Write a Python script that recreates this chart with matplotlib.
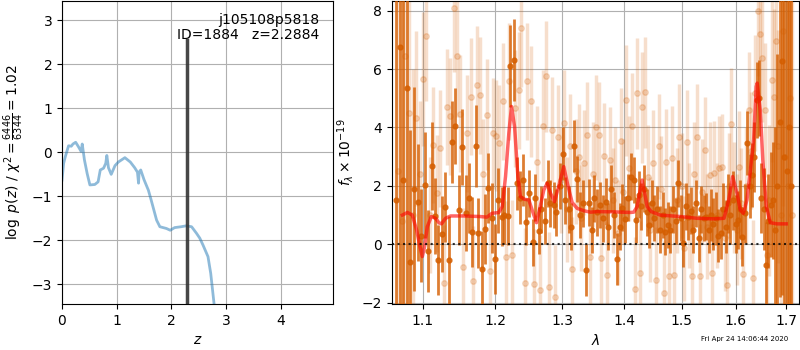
import matplotlib
matplotlib.use('Agg')
import matplotlib.pyplot as plt
from matplotlib.ticker import FixedLocator, FixedFormatter, NullLocator

# --- p(z) panel ---
z_grid = [0.0, 0.03, 0.06, 0.12, 0.17, 0.20, 0.25, 0.30, 0.35, 0.37,
          0.41, 0.46, 0.51, 0.60, 0.66, 0.70, 0.76, 0.80, 0.82, 0.85,
          0.90, 0.97, 1.03, 1.15, 1.25, 1.33, 1.38, 1.40, 1.41, 1.44,
          1.50, 1.58, 1.63, 1.73, 1.79, 1.91, 1.98, 2.06, 2.18, 2.27,
          2.37, 2.46, 2.52, 2.58, 2.67, 2.72, 2.78, 2.82]
log_pz = [-0.63, -0.25, -0.10, 0.15, 0.14, 0.19, 0.23, 0.13, 0.02, 0.19,
          -0.17, -0.48, -0.74, -0.73, -0.67, -0.40, -0.36, -0.25, -0.07, -0.35,
          -0.50, -0.30, -0.22, -0.12, -0.22, -0.35, -0.45, -0.70, -0.45, -0.40,
          -0.62, -0.86, -1.08, -1.54, -1.69, -1.73, -1.77, -1.71, -1.69, -1.67,
          -1.69, -1.84, -1.95, -2.11, -2.37, -2.75, -3.43, -4.0]
z_best = 2.2884
z_line_top = 2.55
label_text = 'j105108p5818\nID=1884   z=2.2884'

# --- spectrum panel: beam 1 (dark) ---
wave_dark = [1.066, 1.071, 1.075, 1.080, 1.084, 1.089, 1.094, 1.098, 1.103, 1.107,
             1.112, 1.117, 1.121, 1.126, 1.130, 1.135, 1.140, 1.144, 1.149, 1.153,
             1.158, 1.163, 1.167, 1.172, 1.176, 1.181, 1.186, 1.190, 1.195, 1.199,
             1.204, 1.209, 1.213, 1.218, 1.222, 1.227, 1.232, 1.236, 1.241, 1.245,
             1.250, 1.255, 1.259, 1.264, 1.268, 1.273, 1.278, 1.282, 1.287, 1.291,
             1.296, 1.301, 1.305, 1.310, 1.314, 1.319, 1.324, 1.328, 1.333, 1.337,
             1.342, 1.347, 1.351, 1.356,
             1.360, 1.365, 1.370, 1.374, 1.379, 1.383, 1.388, 1.393, 1.397, 1.402,
             1.406, 1.411, 1.416, 1.420, 1.425, 1.429, 1.434, 1.439, 1.443, 1.448,
             1.452, 1.457, 1.462, 1.466, 1.471, 1.475, 1.480, 1.485, 1.489, 1.494,
             1.498, 1.503, 1.508, 1.512, 1.517, 1.521, 1.526, 1.531, 1.535, 1.540,
             1.544, 1.549,
             1.554, 1.558, 1.563, 1.567, 1.572, 1.577, 1.581, 1.586, 1.590, 1.595,
             1.600, 1.604, 1.609, 1.613, 1.618, 1.623, 1.627, 1.632, 1.636, 1.641,
             1.646, 1.650, 1.655, 1.659, 1.664, 1.669, 1.673, 1.678, 1.682, 1.687,
             1.692, 1.696, 1.701, 1.705, 1.710]
flux_dark = [1.5, 6.75, 2.2, 5.35, -0.6, 1.9, 1.44, 0.3, 2.03, -0.22,
             2.69, 0.97, -0.54, 0.35, 1.27, -0.54, 3.5, 4.06, 1.18, 3.33,
             1.06, 1.58, 0.43, 3.37, 0.4, -0.86, 0.51, 1.92, 0.9, -0.5,
             1.5, 0.95, 1.0, 0.97, 6.1, 6.3, 2.09, 1.6, 2.2, 0.78,
             1.75, 0.07, 1.6, 0.47, 1.2, 0.8, 2.09, 1.4, 1.35, 1.1,
             2.0, 3.1, 1.5, 1.2, 0.6, 3.37, 2.24, 1.0, 1.4, -0.88,
             1.43, 0.49, 1.58, 1.1,
             1.35, 0.89, 1.46, 0.6, 1.9, 1.0, -0.51, 0.6, 1.25, 0.85,
             1.6, 2.32, 2.2, 0.83, 1.7, 1.3, 1.9, 1.1, 0.66, 1.4,
             0.9, 1.2, 0.5, 1.0, 0.43, 0.66, 0.5, 1.2, 0.8, 2.09,
             0.9, 0.03, 1.3, 0.95, 1.15, 0.5, 1.4, 0.2, 1.2, 0.9,
             0.95, 0.5,
             1.0, 0.7, 0.89, 0.3, 0.38, 1.2, 0.6, 1.4, 1.0, 1.5,
             0.7, 0.83, 1.2, 0.26, 1.06, 3.46, 2.0, 2.38, 3.0, 4.95,
             5.0, 1.6, 1.2, -0.72, 0.8, 1.35, 1.5, 0.5, 2.0, 4.2,
             6.26, 3.0, 2.5, 4.0, 2.0]
err_dark = [10, 12, 9, 11, 4.5, 3.5, 2.0, 1.6, 1.8, 1.4,
            1.5, 1.3, 1.2, 1.3, 1.2, 1.5, 1.4, 1.3, 1.2, 1.3,
            1.3, 1.2, 1.2, 1.4, 1.2, 1.3, 1.2, 1.2, 1.2, 1.2,
            1.1, 1.0, 1.0, 1.0, 1.4, 1.4, 0.9, 0.9, 0.9, 0.8,
            0.8, 0.8, 0.8, 0.8, 0.8, 0.8, 0.8, 0.8, 0.8, 0.8,
            0.8, 0.9, 0.8, 0.8, 0.8, 0.9, 0.8, 0.8, 0.8, 0.9,
            0.8, 0.8, 0.8, 0.8,
            0.8, 0.8, 0.8, 0.8, 0.8, 0.8, 0.9, 0.8, 0.8, 0.8,
            0.8, 0.8, 0.8, 0.8, 0.8, 0.8, 0.8, 0.8, 0.8, 0.8,
            0.8, 0.8, 0.8, 0.8, 0.8, 0.8, 0.8, 0.8, 0.8, 0.8,
            0.8, 0.8, 0.8, 0.8, 0.8, 0.8, 0.8, 0.8, 0.8, 0.8,
            0.8, 0.8,
            0.9, 0.9, 0.9, 0.9, 0.9, 0.9, 0.9, 1.0, 1.0, 1.0,
            1.0, 1.0, 1.0, 1.0, 1.0, 1.1, 1.1, 1.1, 1.2, 1.3,
            1.3, 1.2, 1.4, 1.5, 1.6, 1.8, 2.0, 3.5, 4.5, 6.0,
            8.0, 10, 12, 12, 12]

# --- spectrum panel: beam 2 (light) ---
wave_light = [1.068, 1.073, 1.077, 1.082, 1.087, 1.091, 1.096, 1.100, 1.105, 1.110,
              1.114, 1.119, 1.123, 1.128, 1.132, 1.137, 1.142, 1.146, 1.151, 1.155,
              1.160, 1.165, 1.169, 1.174, 1.178, 1.183, 1.188, 1.192, 1.197, 1.201,
              1.206, 1.211, 1.215, 1.220, 1.224, 1.229, 1.234, 1.238, 1.243, 1.247,
              1.252, 1.257, 1.261, 1.266, 1.270, 1.275, 1.280, 1.284, 1.289, 1.293,
              1.298, 1.303, 1.307, 1.312, 1.316, 1.321, 1.326, 1.330, 1.335, 1.339,
              1.344, 1.349, 1.353, 1.358,
              1.362, 1.367, 1.372, 1.376, 1.381, 1.385, 1.390, 1.395, 1.399, 1.404,
              1.408, 1.413, 1.418, 1.422, 1.427, 1.431, 1.436, 1.441, 1.445, 1.450,
              1.454, 1.459, 1.464, 1.468, 1.473, 1.477, 1.482, 1.487, 1.491, 1.496,
              1.500, 1.505, 1.510, 1.514, 1.519, 1.523, 1.528, 1.533, 1.537, 1.542,
              1.546, 1.551,
              1.556, 1.560, 1.565, 1.569, 1.574, 1.579, 1.583, 1.588, 1.592, 1.597,
              1.602, 1.606, 1.611, 1.615, 1.620, 1.625, 1.629, 1.634, 1.638, 1.643,
              1.648, 1.652, 1.657, 1.661, 1.666, 1.671, 1.675, 1.680, 1.684, 1.689,
              1.694, 1.698, 1.703, 1.707, 1.712]
flux_light = [2.5, 0.8, 6.46, 4.5, 1.0, 4.32, 2.4, 5.66, 7.12, 1.0,
              3.4, 1.75, 3.29, -1.34, 4.7, 4.38, 8.1, 6.45, 4.47, -0.77,
              3.8, 5.06, -1.26, 5.46, 5.1, 2.4, 4.43, -0.9, 3.8, 3.71,
              3.46, 4.9, -0.42, 5.58, -0.37, 4.66, 5.27, 7.4, -1.34, 5.58,
              4.9, -1.36, 2.83, -1.57, 4.06, 5.75, -1.47, 3.92, -1.82, 3.67,
              2.2, 4.17, 1.2, 3.35, -0.86, 2.5, 3.0, 0.9, 2.8, 3.75,
              -0.42, 2.4, 4.0, 3.75,
              -0.48, 3.03, -1.05, 2.9, 1.5, 2.2, 0.4, 3.55, 1.8, 4.93,
              2.6, 4.06, -1.54, 5.18, -1.0, 4.7, 5.2, 2.3, 0.5, 2.8,
              -1.22, 3.35, 1.9, -1.68, 2.83, -1.1, 2.95, -1.05, 1.5, 3.69,
              2.0, -0.14, 3.49, 1.0, -1.1, 2.4, 3.69, -1.1, 1.8, 3.23,
              0.6, 2.38,
              -1.0, 2.43, 1.0, 2.6, 2.66, 0.2, -1.39, 2.0, 4.13, 1.6,
              0.5, 2.66, 1.4, -1.02, 2.0, 4.6, 3.2, -1.17, 5.18, 7.98,
              7.2, 6.38, 4.6, -0.36, 1.5, 5.63, 5.06, 6.95, 3.35, 1.0,
              7.3, 3.0, 2.0, 5.0, 1.0]
err_light = [12, 12, 10, 8, 5, 3, 2.5, 2.3, 2.2, 2.0,
             2.0, 2.0, 2.0, 2.0, 2.0, 2.0, 2.2, 2.1, 2.0, 2.0,
             2.0, 2.0, 1.9, 2.0, 2.0, 1.9, 1.9, 1.9, 1.9, 1.9,
             2.0, 2.0, 1.9, 2.0, 1.9, 2.0, 2.0, 2.0, 1.9, 2.0,
             1.9, 1.9, 1.9, 1.9, 1.9, 1.9, 1.9, 1.8, 1.8, 1.8,
             1.8, 1.8, 1.8, 1.8, 1.8, 1.8, 1.8, 1.8, 1.8, 1.8,
             1.8, 1.8, 1.8, 1.8,
             1.8, 1.8, 1.8, 1.8, 1.8, 1.8, 1.8, 1.8, 1.8, 1.9,
             1.8, 1.8, 1.8, 1.9, 1.8, 1.9, 1.9, 1.8, 1.8, 1.8,
             1.8, 1.8, 1.8, 1.8, 1.8, 1.8, 1.8, 1.8, 1.8, 1.8,
             1.8, 1.8, 1.8, 1.8, 1.8, 1.8, 1.8, 1.8, 1.8, 1.8,
             1.8, 1.8,
             1.8, 1.8, 1.8, 1.8, 1.8, 1.8, 1.8, 1.8, 1.9, 1.9,
             1.9, 1.9, 1.9, 2.0, 2.0, 2.0, 2.0, 2.0, 2.0, 2.2,
             2.2, 2.2, 2.3, 2.4, 2.6, 2.8, 3.0, 3.5, 4, 5,
             6, 8, 10, 12, 12]

# --- best-fit model ---
model_wave = [1.0736, 1.0802, 1.0865, 1.0921, 1.0965, 1.0996, 1.1026, 1.1062, 1.1115, 1.1172,
              1.1216, 1.1252, 1.1306, 1.1374, 1.1555, 1.1786, 1.188, 1.1952, 1.2051, 1.21,
              1.2148, 1.2196, 1.2235, 1.228, 1.2329, 1.2368, 1.2428, 1.2492, 1.2558, 1.2607,
              1.2657, 1.2718, 1.277, 1.282, 1.2881, 1.2947, 1.3025, 1.3088, 1.3157, 1.3235,
              1.334, 1.3449, 1.3556, 1.3828, 1.4108, 1.4164, 1.4221, 1.4307, 1.4393, 1.4462,
              1.462, 1.4978, 1.528, 1.5585, 1.578, 1.587, 1.5944, 1.6028, 1.609, 1.615,
              1.622, 1.628, 1.635, 1.640, 1.642, 1.648, 1.653, 1.660, 1.668, 1.681,
              1.700]
model_flux = [1.0, 1.09, 1.0, 0.49, -0.08, -0.42, -0.08, 0.6, 0.95, 0.89,
              0.74, 0.7, 0.89, 0.97, 0.97, 0.95, 0.93, 1.06, 1.09, 1.29,
              2.32, 3.8, 4.72, 4.03, 2.32, 1.63, 1.54, 1.52, 1.06, 0.74,
              1.23, 1.86, 2.09, 1.75, 1.46, 1.98, 2.66, 2.03, 1.43, 1.23,
              1.15, 1.1, 1.12, 1.11, 1.09, 1.1, 1.29, 2.2, 1.29, 1.12,
              1.0, 0.95, 0.89, 0.87, 0.89, 1.52, 2.32, 1.75, 1.18, 1.06,
              1.52, 2.43, 3.58, 5.4, 5.52, 4.6, 2.89, 1.29, 0.74, 0.7,
              0.7]

lam_ticks = [1.1, 1.2, 1.3, 1.4, 1.5, 1.6, 1.7]
date_text = 'Fri Apr 24 14:06:44 2020'

G141_COLOR = (0.835, 0.369, 0.0)

fig = plt.figure(figsize=(8, 3.5), dpi=100)

# p(z)
ax = fig.add_axes([0.0775, 0.131, 0.339, 0.866])
ax.plot(z_grid, log_pz, color='tab:blue', alpha=0.5, lw=2)
ax.plot([z_best, z_best], [-4, z_line_top], color='0.2', alpha=0.9, lw=2.5)
ax.text(0.95, 0.96, label_text, ha='right', va='top', transform=ax.transAxes,
        fontsize=10, linespacing=1.05)
ax.set_xlim(0, 4.96)
ax.set_ylim(-3.45, 3.44)
ax.set_xticks([0, 1, 2, 3, 4])
ax.set_yticks([-3, -2, -1, 0, 1, 2, 3])
ax.set_xlabel(r'$z$')
ax.set_ylabel(r'$\log\ p(z)$ / $\chi^2=\frac{6446}{6344}=1.02$')
ax.grid()

# spectrum
ax = fig.add_axes([0.4896, 0.131, 0.5096, 0.866])
ax.errorbar(wave_light, flux_light, yerr=err_light, marker='o', ms=4,
            linestyle='none', color=G141_COLOR, alpha=0.2, elinewidth=2.5,
            zorder=2)
ax.errorbar(wave_dark, flux_dark, yerr=err_dark, marker='o', ms=3.5,
            linestyle='none', color=G141_COLOR, alpha=0.8, elinewidth=2,
            zorder=3)
ax.plot(model_wave, model_flux, color='r', alpha=0.6, lw=2.5, zorder=4)
ax.plot([1.06, 1.727], [0, 0], color='k', linestyle=':', lw=1.5, alpha=0.8,
        zorder=5)
ax.set_xscale('log')
ax.set_xlim(1.06, 1.727)
ax.set_ylim(-2.05, 8.33)
ax.xaxis.set_major_locator(FixedLocator(lam_ticks))
ax.xaxis.set_major_formatter(FixedFormatter([str(t) for t in lam_ticks]))
ax.xaxis.set_minor_locator(NullLocator())
ax.set_yticks([-2, 0, 2, 4, 6, 8])
ax.set_xlabel(r'$\lambda$')
ax.set_ylabel(r'$f_\lambda\times10^{-19}$')
ax.grid()

fig.text(0.985, 0.031, date_text, ha='right', va='center', fontsize=5)

fig.savefig('out.png', dpi=100)
